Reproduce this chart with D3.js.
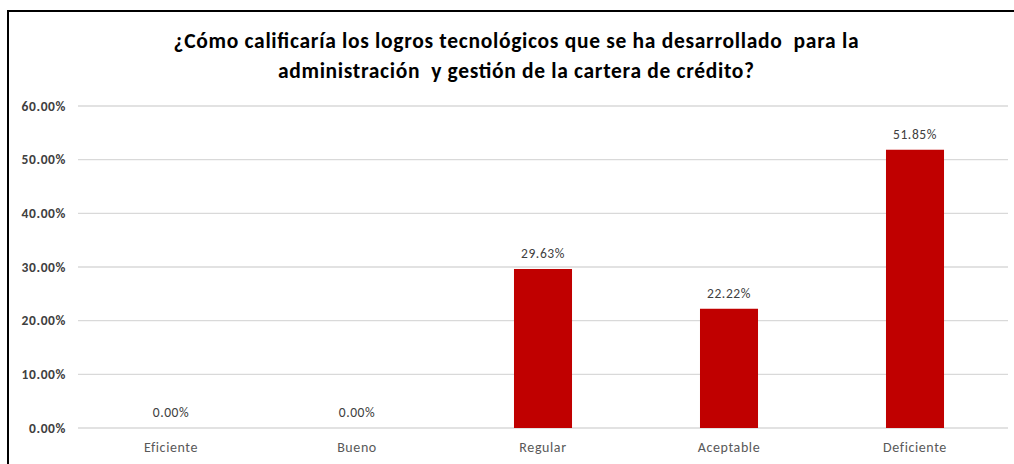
<!DOCTYPE html>
<html><head><meta charset="utf-8">
<script src="https://cdn.jsdelivr.net/npm/d3@7"></script>
<style>body{margin:0;background:#fff;}svg{display:block;}</style>
</head><body>
<svg id="c" width="1014" height="464"></svg>
<script>
const categories = ["Eficiente","Bueno","Regular","Aceptable","Deficiente"];
const values = [0.0, 0.0, 0.2963, 0.2222, 0.5185];
const tickValues = [0, 0.1, 0.2, 0.3, 0.4, 0.5, 0.6];
const titleLines = ["¿Cómo calificaría los logros tecnológicos que se ha desarrollado  para la",
                    "administración  y gestión de la cartera de crédito?"];
const titleWidths = [685, 476];

const svg = d3.select("#c");
const font = "Calibri, Carlito, Lato, sans-serif";
// frame
svg.append("rect").attr("x",8).attr("y",11).attr("width",1014).attr("height",470)
  .attr("fill","#fff").attr("stroke","#000").attr("stroke-width",2);

const x = d3.scaleBand().domain(categories).range([78,1008]).paddingInner(0.688).paddingOuter(0.344);
const y = d3.scaleLinear().domain([0,0.6]).range([428,106]);

// gridlines
svg.append("g").selectAll("line").data(tickValues).join("line")
  .attr("x1",78).attr("x2",1008).attr("y1",d=>y(d)).attr("y2",d=>y(d))
  .attr("stroke","#d9d9d9").attr("stroke-width",1.3);

// y axis
const yAxis = d3.axisLeft(y).tickValues(tickValues).tickFormat(d=>d3.format(".2%")(d)).tickSize(0).tickPadding(12);
const gy = svg.append("g").attr("transform","translate(78,0)").call(yAxis);
gy.select(".domain").remove();
gy.selectAll("text").attr("font-family",font).attr("font-size",13.5).attr("font-weight","bold")
  .attr("letter-spacing",0.6).attr("fill","#404040");

// x axis
const xAxis = d3.axisBottom(x).tickSize(0).tickPadding(14);
const gx = svg.append("g").attr("transform","translate(0,428)").call(xAxis);
gx.select(".domain").remove();
gx.selectAll("text").attr("font-family",font).attr("font-size",14).attr("letter-spacing",0.6).attr("fill","#595959");

// bars
svg.append("g").selectAll("rect").data(values).join("rect")
  .attr("x",(d,i)=>x(categories[i])).attr("width",x.bandwidth())
  .attr("y",d=>y(d)).attr("height",d=>y(0)-y(d)).attr("fill","#c00000");

// value labels
svg.append("g").selectAll("text").data(values).join("text")
  .attr("x",(d,i)=>x(categories[i])+x.bandwidth()/2).attr("y",d=>y(d)-11)
  .attr("text-anchor","middle").attr("font-family",font).attr("font-size",13.5)
  .attr("letter-spacing",0.6).attr("fill","#404040").text(d=>d3.format(".2%")(d));

// title
svg.append("g").selectAll("text").data(titleLines).join("text")
  .attr("x",516).attr("y",(d,i)=>48+i*30).attr("text-anchor","middle")
  .attr("font-family",font).attr("font-size",21.5).attr("font-weight","bold").attr("fill","#000")
  .attr("textLength",(d,i)=>titleWidths[i]).attr("lengthAdjust","spacing")
  .style("white-space","pre")
  .text(d=>d);
</script>
</body></html>
